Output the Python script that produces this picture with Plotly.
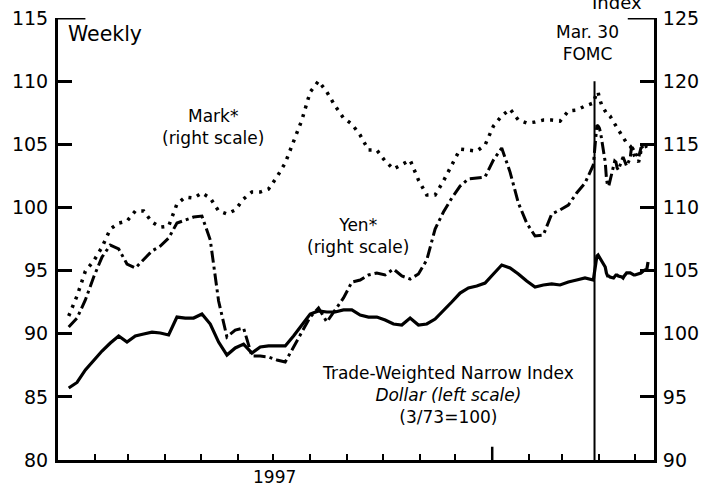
import pandas as pd
import plotly.graph_objects as go

# ---------------- data ----------------
WEEKLY_START = "1997-01-10"   # weekly observations (Fridays)
DAILY_START = "1998-03-30"    # daily observations after the FOMC meeting
FOMC_DATE = "1998-03-28"

dollar_weekly = [85.70, 86.14, 87.13, 87.92, 88.63, 89.26, 89.82, 89.34, 89.82, 89.98,
                 90.13, 90.06, 89.90, 91.32, 91.24, 91.24, 91.56, 90.77, 89.34, 88.31,
                 88.87, 89.18, 88.47, 88.95, 89.03, 89.03, 89.03, 89.82, 90.69, 91.56,
                 91.80, 91.72, 91.72, 91.88, 91.88, 91.48, 91.32, 91.32, 91.08, 90.77,
                 90.69, 91.24, 90.69, 90.77, 91.16, 91.80, 92.51, 93.22, 93.62, 93.78,
                 94.01, 94.73, 95.44, 95.20, 94.73, 94.17, 93.70, 93.86, 93.94, 93.86,
                 94.09, 94.25, 94.41, 94.25]
dollar_daily = [96.15, 96.23, 96.07, 95.91, 95.84, 95.28, 94.81, 94.57, 94.57, 94.49,
                94.41, 94.57, 94.65, 94.65, 94.57, 94.49, 94.41, 94.57, 94.73, 94.81,
                94.81, 94.73, 94.65, 94.65, 94.65, 94.73, 94.81, 94.81, 94.89, 94.97,
                95.12, 95.68]

yen_weekly = [100.53, 101.24, 102.67, 104.49, 106.07, 107.02, 106.71, 105.52, 105.20, 105.84,
              106.55, 106.94, 107.57, 108.76, 109.00, 109.24, 109.32, 107.42, 102.59, 99.74,
              100.29, 100.45, 98.23, 98.23, 98.16, 97.92, 97.76, 98.95, 100.21, 101.32,
              102.03, 100.93, 101.88, 102.83, 104.09, 104.25, 104.65, 104.81, 104.65, 105.12,
              104.57, 104.33, 104.73, 105.84, 108.29, 109.64, 110.74, 111.69, 112.25, 112.33,
              112.41, 113.75, 114.70, 112.80, 110.35, 108.76, 107.74, 107.82, 109.48, 109.80,
              110.19, 111.14, 111.93, 113.36]
yen_daily = [116.52, 116.44, 116.29, 115.97, 115.34, 113.60, 112.33, 111.70, 111.70, 112.17,
             113.28, 113.68, 113.60, 113.12, 112.96, 113.75, 113.99, 113.75, 113.44, 113.28,
             113.91, 114.70, 114.70, 114.46, 114.38, 113.91, 114.22, 114.70, 114.78, 114.86,
             114.94, 114.94]

mark_weekly = [101.40, 102.99, 104.96, 105.76, 106.86, 108.29, 108.76, 108.92, 109.72, 109.72,
               108.84, 108.44, 108.52, 110.27, 110.82, 110.74, 111.14, 110.74, 109.72, 109.48,
               109.80, 110.67, 111.22, 111.22, 111.46, 112.41, 113.52, 115.18, 116.92, 119.14,
               120.01, 119.14, 118.03, 117.08, 116.60, 115.73, 114.54, 114.54, 113.67, 113.04,
               113.36, 113.75, 112.17, 110.98, 110.98, 112.09, 113.36, 114.62, 114.54, 114.46,
               114.94, 116.44, 117.24, 117.79, 116.92, 116.68, 116.76, 116.92, 116.92, 116.84,
               117.63, 117.71, 118.03, 118.27]
mark_daily = [119.14, 119.14, 118.66, 118.34, 118.11, 117.63, 117.47, 117.32, 117.32, 117.24,
              116.76, 116.60, 116.44, 116.29, 116.13, 115.65, 115.57, 115.42, 115.26, 115.10,
              114.86, 114.70, 114.54, 114.22, 113.99, 113.60, 113.91, 114.54, 114.70, 114.78,
              114.86, 114.86]

left_ticks = [80, 85, 90, 95, 100, 105, 110, 115]
right_ticks = [90, 95, 100, 105, 110, 115, 120, 125]
month_ticks = pd.date_range("1997-01-01", "1998-05-01", freq="MS")

weekly_dates = pd.date_range(WEEKLY_START, periods=len(dollar_weekly), freq="7D")
daily_dates = pd.bdate_range(DAILY_START, periods=len(dollar_daily))
all_dates = list(weekly_dates) + list(daily_dates)

FONT = "DejaVu Sans"

fig = go.Figure()
fig.add_trace(go.Scatter(x=all_dates, y=dollar_weekly + dollar_daily, mode="lines",
                         line=dict(color="black", width=3.2), yaxis="y"))
fig.add_trace(go.Scatter(x=all_dates, y=yen_weekly + yen_daily, mode="lines",
                         line=dict(color="black", width=3, dash="12px,4px,3px,4px"), yaxis="y2"))
fig.add_trace(go.Scatter(x=all_dates, y=mark_weekly + mark_daily, mode="lines",
                         line=dict(color="black", width=3.5, dash="3px,6px"), yaxis="y2"))

fig.update_layout(
    width=701, height=486,
    margin=dict(l=58, r=47, t=18, b=26),
    paper_bgcolor="white", plot_bgcolor="white",
    showlegend=False,
    font=dict(family=FONT, color="black", size=17),
    xaxis=dict(type="date", range=["1997-01-01", "1998-05-17"], automargin=False,
               showgrid=False, zeroline=False, showline=True, linecolor="black", linewidth=3,
               tickvals=month_ticks, ticks="inside", ticklen=6, tickwidth=2, tickcolor="black",
               showticklabels=False),
    yaxis=dict(range=[80, 115], tickvals=left_ticks, showgrid=False, zeroline=False,
               automargin=False,
               showline=True, linecolor="black", linewidth=3,
               ticks="inside", ticklen=14, tickwidth=3, tickcolor="black",
               tickfont=dict(size=19, family=FONT), ticklabelstandoff=3),
    yaxis2=dict(range=[90, 125], tickvals=right_ticks, overlaying="y", side="right",
                automargin=False,
                showgrid=False, zeroline=False, showline=True, linecolor="black", linewidth=3,
                ticks="inside", ticklen=14, tickwidth=3, tickcolor="black",
                tickfont=dict(size=19, family=FONT), ticklabelstandoff=2),
)

# FOMC vertical line, longer top ticks, tall year tick
fig.add_shape(type="line", xref="x", yref="y", x0=FOMC_DATE, x1=FOMC_DATE, y0=80, y1=110,
              line=dict(color="black", width=2))
fig.add_shape(type="line", xref="paper", yref="y", x0=0, x1=0.046, y0=115, y1=115,
              line=dict(color="black", width=3))
fig.add_shape(type="line", xref="paper", yref="y2", x0=0.956, x1=1, y0=125, y1=125,
              line=dict(color="black", width=3))
fig.add_shape(type="line", xref="x", yref="paper", x0="1998-01-01", x1="1998-01-01",
              y0=0, y1=0.03, line=dict(color="black", width=2.5))

def note(text, x, y, size=17, xref="paper", yref="paper", **kw):
    fig.add_annotation(text=text, x=x, y=y, xref=xref, yref=yref, showarrow=False,
                       font=dict(size=size, family=FONT, color="black"), **kw)

note("Weekly", 0.013, 1.0, size=20.5, xanchor="left", yanchor="top", yshift=-2)
note("Mark*<br>(right scale)", "1997-05-11", 116.4, xref="x", yref="y2", yanchor="middle")
note("Yen*<br>(right scale)", "1997-09-10", 107.7, xref="x", yref="y2", yanchor="middle")
note("Trade-Weighted Narrow Index<br><i>Dollar (left scale)</i><br>(3/73=100)",
     "1997-11-25", 85.15, xref="x", yref="y", yanchor="middle")
note("Mar. 30<br>FOMC", "1998-03-22", 113.0, xref="x", yref="y", yanchor="middle")
note("1997", "1997-07-02", 0, xref="x", xanchor="center", yanchor="top", yshift=-5)
note("Index", "1998-04-16", 1.0, xref="x", size=18, xanchor="center", yanchor="bottom", yshift=3)

fig.write_html("out.html", config={"displayModeBar": False},
               post_script="document.body.style.margin='0';")
